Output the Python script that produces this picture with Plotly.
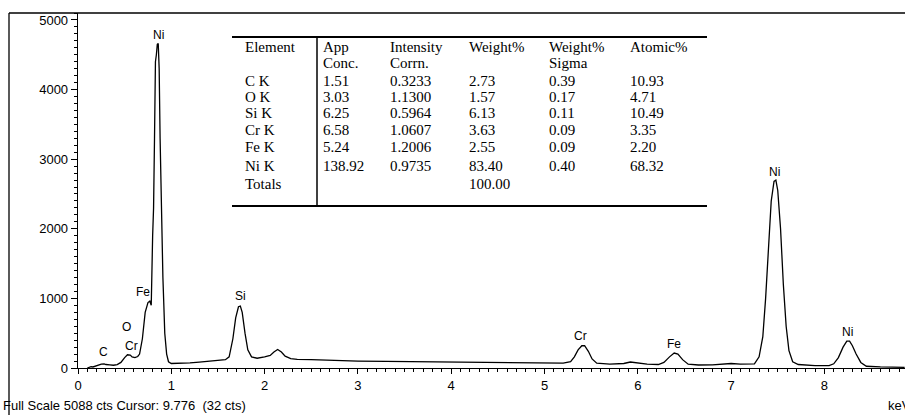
import plotly.graph_objects as go

# ---------------- data ----------------
energy_kev = [0.10, 0.12, 0.14, 0.16, 0.18, 0.20, 0.22, 0.25, 0.28, 0.30, 0.34, 0.38, 0.42, 0.46,
              0.50, 0.53, 0.56, 0.58, 0.61, 0.64, 0.66, 0.69, 0.72, 0.75, 0.77, 0.785, 0.80, 0.81,
              0.82, 0.83, 0.84, 0.85, 0.86, 0.87, 0.88, 0.89, 0.90, 0.91, 0.92, 0.93, 0.95, 0.97,
              1.00, 1.10, 1.20, 1.30, 1.40, 1.50, 1.58, 1.62, 1.66, 1.69, 1.72, 1.74, 1.76, 1.79,
              1.82, 1.86, 1.92, 2.00, 2.06, 2.10, 2.14, 2.18, 2.22, 2.28, 2.35, 2.50, 2.70, 3.00,
              3.30, 3.60, 4.00, 4.40, 4.80, 5.20, 5.28, 5.32, 5.36, 5.40, 5.43, 5.47, 5.51, 5.56,
              5.70, 5.85, 5.92, 5.98, 6.10, 6.22, 6.28, 6.34, 6.39, 6.43, 6.48, 6.54, 6.65, 6.80,
              7.00, 7.10, 7.25, 7.30, 7.34, 7.37, 7.40, 7.43, 7.46, 7.48, 7.50, 7.53, 7.56, 7.59,
              7.62, 7.66, 7.72, 7.90, 8.05, 8.10, 8.15, 8.20, 8.24, 8.27, 8.30, 8.34, 8.39, 8.45,
              8.60, 8.86]
counts = [0, 10, 20, 15, 25, 30, 40, 55, 60, 50, 45, 40, 50, 80,
          150, 190, 185, 160, 150, 165, 200, 420, 800, 940, 960, 900, 1900, 2300,
          3300, 4400, 4500, 4650, 4660, 4300, 3300, 2400, 1800, 1300, 900, 500, 200, 90,
          65, 65, 75, 85, 95, 110, 120, 160, 420, 720, 880, 890, 800, 500,
          260, 160, 140, 160, 180, 230, 265, 230, 170, 135, 125, 120, 110, 100,
          95, 90, 86, 80, 75, 70, 90, 160, 260, 320, 320, 240, 130, 70,
          55, 65, 86, 75, 55, 50, 80, 160, 215, 200, 120, 55, 43, 45,
          65, 55, 60, 160, 450, 1000, 1800, 2400, 2680, 2700, 2550, 2000, 1200, 600,
          250, 90, 50, 35, 35, 60, 150, 300, 385, 385, 320, 200, 80, 25,
          15, 10]

peak_labels = ["C", "O", "Cr", "Fe", "Ni", "Si", "Cr", "Fe", "Ni", "Ni"]
peak_label_x = [0.27, 0.52, 0.57, 0.70, 0.86, 1.74, 5.39, 6.39, 7.46, 8.25]
peak_label_y = [230, 590, 316, 1090, 4780, 1035, 460, 345, 2816, 517]

table_header1 = ["Element", "App", "Intensity", "Weight%", "Weight%", "Atomic%"]
table_header2 = ["", "Conc.", "Corrn.", "", "Sigma", ""]
elements = ["C K", "O K", "Si K", "Cr K", "Fe K", "Ni K"]
app_conc = ["1.51", "3.03", "6.25", "6.58", "5.24", "138.92"]
intensity_corrn = ["0.3233", "1.1300", "0.5964", "1.0607", "1.2006", "0.9735"]
weight_pct = ["2.73", "1.57", "6.13", "3.63", "2.55", "83.40"]
weight_sigma = ["0.39", "0.17", "0.11", "0.09", "0.09", "0.40"]
atomic_pct = ["10.93", "4.71", "10.49", "3.35", "2.20", "68.32"]
totals_weight = "100.00"

y_ticks = [0, 1000, 2000, 3000, 4000, 5000]
x_ticks = [0, 1, 2, 3, 4, 5, 6, 7, 8]

footer_text = "Full Scale 5088 cts Cursor: 9.776  (32 cts)"
unit_text = "keV"

# ---------------- layout geometry ----------------
W, H = 905, 415
ML, MR, MT, MB = 78, 0, 13, 47
PW, PH = W - ML - MR, H - MT - MB


def px(x):
    return (x - ML) / PW


def py(y):
    return (H - MB - y) / PH


fig = go.Figure()
fig.add_trace(go.Scatter(x=energy_kev, y=counts, mode="lines",
                         line=dict(color="black", width=1.3), hoverinfo="skip",
                         showlegend=False))

sans = "Liberation Sans, Arial, sans-serif"
serif = "Liberation Serif, Times New Roman, serif"

annotations = []
for t, x, y in zip(peak_labels, peak_label_x, peak_label_y):
    annotations.append(dict(x=x, y=y, xref="x", yref="y", text=t, showarrow=False,
                            font=dict(family=sans, size=12, color="black"),
                            xanchor="center", yanchor="middle"))

col_x = [243, 321, 388, 467, 547, 628]
row_y = [47, 63, 81, 97, 113, 130, 147, 166, 184]


def cell(text, cx, ry):
    if text == "":
        return
    annotations.append(dict(x=px(cx), y=py(ry), xref="paper", yref="paper", text=text,
                            showarrow=False, xanchor="left", yanchor="middle",
                            font=dict(family=serif, size=15, color="black")))


for i, t in enumerate(table_header1):
    cell(t, col_x[i], row_y[0])
for i, t in enumerate(table_header2):
    cell(t, col_x[i], row_y[1])
for r in range(len(elements)):
    vals = [elements[r], app_conc[r], intensity_corrn[r], weight_pct[r], weight_sigma[r], atomic_pct[r]]
    for i, t in enumerate(vals):
        cell(t, col_x[i], row_y[2 + r])
cell("Totals", col_x[0], row_y[8])
cell(totals_weight, col_x[3], row_y[8])

annotations.append(dict(x=px(1), y=py(405), xref="paper", yref="paper", text=footer_text,
                        showarrow=False, xanchor="left", yanchor="middle",
                        font=dict(family=sans, size=13, color="black")))
annotations.append(dict(x=px(886), y=py(405), xref="paper", yref="paper", text=unit_text,
                        showarrow=False, xanchor="left", yanchor="middle",
                        font=dict(family=sans, size=13, color="black")))

shapes = [
    # outer frame
    dict(type="line", xref="paper", yref="paper", x0=px(9), x1=px(905), y0=py(13), y1=py(13),
         line=dict(color="black", width=1.3)),
    dict(type="line", xref="paper", yref="paper", x0=px(9), x1=px(9), y0=py(13), y1=py(415),
         line=dict(color="black", width=1.3)),
    # table lines
    dict(type="line", xref="paper", yref="paper", x0=px(232), x1=px(707), y0=py(37), y1=py(37),
         line=dict(color="black", width=2)),
    dict(type="line", xref="paper", yref="paper", x0=px(232), x1=px(707), y0=py(206), y1=py(206),
         line=dict(color="black", width=2)),
    dict(type="line", xref="paper", yref="paper", x0=px(317), x1=px(317), y0=py(37), y1=py(206),
         line=dict(color="black", width=1.5)),
]

fig.update_layout(
    width=W, height=H,
    margin=dict(l=ML, r=MR, t=MT, b=MB, pad=0),
    paper_bgcolor="white", plot_bgcolor="white",
    annotations=annotations, shapes=shapes,
    showlegend=False,
    xaxis=dict(range=[0, PW / 93.3], tickvals=x_ticks, ticks="outside", ticklen=5,
               tickcolor="black", showline=True, linecolor="black", linewidth=1.3,
               showgrid=False, zeroline=False,
               tickfont=dict(family=sans, size=13, color="black"),
               minor=dict(dtick=0.1, ticks="outside", ticklen=3, tickcolor="black", showgrid=False)),
    yaxis=dict(range=[0, 5100], tickvals=y_ticks, ticks="outside", ticklen=6,
               tickcolor="black", showline=True, linecolor="black", linewidth=1.3,
               showgrid=False, zeroline=False,
               tickfont=dict(family=sans, size=13, color="black"),
               minor=dict(dtick=100, ticks="outside", ticklen=3, tickcolor="black", showgrid=False)),
)

fig.write_html("out.html", config={"displayModeBar": False, "staticPlot": True},
               post_script="document.body.style.margin='0px';document.body.style.overflow='hidden';")
